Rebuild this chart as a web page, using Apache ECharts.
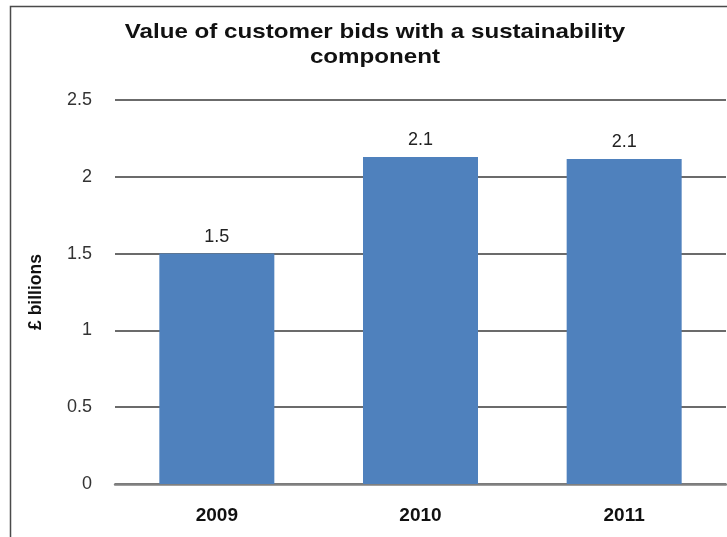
<!DOCTYPE html>
<html>
<head>
<meta charset="utf-8">
<script src="https://cdn.jsdelivr.net/npm/echarts@6/dist/echarts.min.js"></script>
<style>html,body{margin:0;padding:0;background:#fff}#c{width:727px;height:537px}</style>
</head>
<body>
<div id="c"></div>
<script>
const categories = ['2009', '2010', '2011'];
const values = [1.5, 2.129, 2.116];
const valueLabels = ['1.5', '2.1', '2.1'];
const yTicks = { min: 0, max: 2.5, interval: 0.5 };
const titleText = 'Value of customer bids with a sustainability\ncomponent';

const FONT = 'Liberation Sans, Arial, sans-serif';
const chart = echarts.init(document.getElementById('c'));
chart.setOption({
  animation: false,
  backgroundColor: '#fff',
  graphic: [{
    type: 'polyline',
    shape: { points: [[10.5, 545], [10.5, 6.5], [740, 6.5]] },
    style: { stroke: '#4a4a4a', lineWidth: 1.5, fill: null }
  }, {
    type: 'text',
    x: 375, y: 20, scaleX: 1.15,
    style: {
      text: titleText, fontFamily: FONT, fontWeight: 'bold', fontSize: 21, lineHeight: 25,
      fill: '#111', align: 'center', verticalAlign: 'top'
    }
  }],
  grid: { left: 115, right: 1, top: 100, bottom: 53 },
  xAxis: {
    type: 'category', data: categories,
    axisLine: { show: true, lineStyle: { color: '#808080', width: 2.5 } },
    axisTick: { show: false },
    axisLabel: { margin: 22, fontFamily: FONT, fontWeight: 'bold', fontSize: 19, color: '#111' }
  },
  yAxis: {
    type: 'value', min: yTicks.min, max: yTicks.max, interval: yTicks.interval,
    name: '£ billions', nameLocation: 'middle', nameGap: 70, nameRotate: 90,
    nameTextStyle: { fontFamily: FONT, fontWeight: 'bold', fontSize: 17.5, color: '#111' },
    axisLine: { show: false }, axisTick: { show: false },
    axisLabel: { margin: 23, fontFamily: FONT, fontSize: 18, color: '#333' },
    splitLine: { lineStyle: { color: '#3a3a3a', width: 1.6 } }
  },
  series: [{
    type: 'bar', data: values, barWidth: 115,
    itemStyle: { color: '#4f81bd' },
    label: {
      show: true, position: 'top', distance: 8,
      formatter: p => valueLabels[p.dataIndex],
      fontFamily: FONT, fontSize: 18, color: '#222'
    }
  }]
});
</script>
</body>
</html>
